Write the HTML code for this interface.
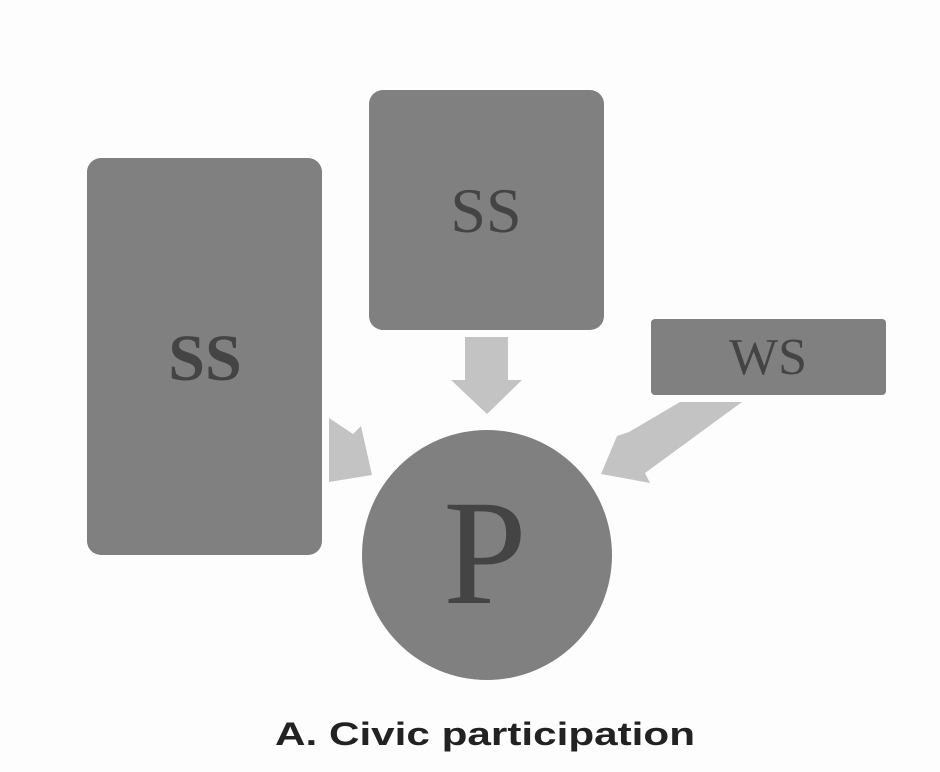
<!DOCTYPE html>
<html><head><style>body{margin:0;background:#fdfdfd}</style></head><body>
<svg width="940" height="767" viewBox="0 0 940 767" xmlns="http://www.w3.org/2000/svg">
<rect width="940" height="767" fill="#fdfdfd"/>
<g fill="#c3c3c3">
<polygon points="465,337 508,337 508,380 522,380 487,414 451,380 465,380"/>
<polygon points="329,418 353,434 361,426 372,475 329,482"/>
<polygon points="680,402 742,402 645,473 650,483 601,474 617,436 629,432"/>
</g>
<g fill="#808080">
<rect x="87" y="158" width="235" height="397" rx="14"/>
<rect x="369" y="90" width="235" height="240" rx="14"/>
<rect x="651" y="319" width="235" height="76" rx="4"/>
<circle cx="487" cy="555" r="125"/>
</g>
<g fill="#444" font-family="Liberation Serif, serif" text-anchor="middle">
<text x="205" y="380" font-size="66" font-weight="bold">SS</text>
<text x="486" y="232" font-size="64">SS</text>
<text x="768" y="374" font-size="52">WS</text>
<text x="485" y="603" font-size="150">P</text>
</g>
<text x="275" y="745" font-family="Liberation Sans, sans-serif" font-weight="bold" font-size="32" fill="#222" textLength="420" lengthAdjust="spacingAndGlyphs">A. Civic participation</text>
</svg>
</body></html>
